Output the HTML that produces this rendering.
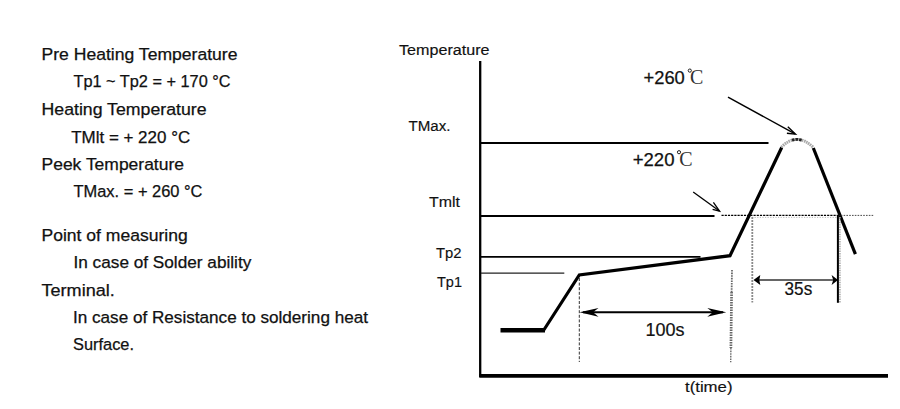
<!DOCTYPE html>
<html><head><meta charset="utf-8">
<style>
html,body{margin:0;padding:0;background:#fff;}
body{width:900px;height:409px;overflow:hidden;}
svg{display:block;}
text{font-family:"Liberation Sans",sans-serif;fill:#111;}
.l{font-size:16.3px;stroke:#111;stroke-width:0.25px;}
.a{font-size:13.8px;stroke:#111;stroke-width:0.15px;}
.b{font-size:18px;}
.s{font-family:"Liberation Serif",serif;}
</style></head><body>
<svg width="900" height="409" viewBox="0 0 900 409">
<rect width="900" height="409" fill="#fff"/>
<!-- left text -->
<g class="l">
<text x="41.5" y="60.2" textLength="196" lengthAdjust="spacingAndGlyphs">Pre Heating Temperature</text>
<text x="73.5" y="87.3" textLength="157" lengthAdjust="spacingAndGlyphs">Tp1 ~ Tp2 = + 170 °C</text>
<text x="41.5" y="114.8" textLength="165" lengthAdjust="spacingAndGlyphs">Heating Temperature</text>
<text x="71.2" y="142.9" textLength="119" lengthAdjust="spacingAndGlyphs">TMlt = + 220 °C</text>
<text x="41.5" y="169.5" textLength="142.5" lengthAdjust="spacingAndGlyphs">Peek Temperature</text>
<text x="73.5" y="196.6" textLength="129" lengthAdjust="spacingAndGlyphs">TMax. = + 260 °C</text>
<text x="41.5" y="241.3" textLength="146.3" lengthAdjust="spacingAndGlyphs">Point of measuring</text>
<text x="73.5" y="267.8" textLength="177.8" lengthAdjust="spacingAndGlyphs">In case of Solder ability</text>
<text x="41.5" y="295.6" textLength="73.3" lengthAdjust="spacingAndGlyphs">Terminal.</text>
<text x="73" y="323.3" textLength="295" lengthAdjust="spacingAndGlyphs">In case of Resistance to soldering heat</text>
<text x="73" y="350.3" textLength="61" lengthAdjust="spacingAndGlyphs">Surface.</text>
</g>
<!-- axis labels -->
<g class="a">
<text x="399" y="55" textLength="90.5" lengthAdjust="spacingAndGlyphs">Temperature</text>
<text x="408.5" y="130.6" textLength="42" lengthAdjust="spacingAndGlyphs">TMax.</text>
<text x="429" y="207" textLength="31" lengthAdjust="spacingAndGlyphs">Tmlt</text>
<text x="436" y="258" textLength="25.5" lengthAdjust="spacingAndGlyphs">Tp2</text>
<text x="437" y="287" textLength="25" lengthAdjust="spacingAndGlyphs">Tp1</text>
<text x="685" y="392.1" textLength="47.5" lengthAdjust="spacingAndGlyphs">t(time)</text>
</g>
<!-- axes -->
<g stroke="#000" fill="none">
<line x1="480.2" y1="61" x2="480.2" y2="377" stroke-width="2.3"/>
<line x1="479.3" y1="375.9" x2="888" y2="375.9" stroke-width="3.6"/>
<line x1="481" y1="143" x2="768.5" y2="143" stroke-width="2"/>
<line x1="481" y1="216" x2="714.5" y2="216" stroke-width="1.8"/>
<line x1="481" y1="256.9" x2="700.5" y2="256.9" stroke-width="1.6"/>
<line x1="481" y1="273.2" x2="564.3" y2="273.2" stroke-width="1.3" stroke="#222"/>
<!-- profile -->
<line x1="500.5" y1="330.2" x2="545" y2="330.2" stroke-width="4.4"/>
<polyline points="543.5,330.5 579.3,275 730,255.7 781.7,147.5" stroke-width="3.2" stroke-linejoin="miter"/>
<line x1="813.3" y1="148" x2="855.4" y2="254.2" stroke-width="3.2"/>
<path d="M781.2,147.3 Q796.8,131.5 813.2,147.3" stroke="#a8a8a8" stroke-width="3" stroke-dasharray="1.6 0.7"/>
<path d="M792,140.2 Q797,138.6 802.4,140.3" stroke="#222" stroke-width="2.8" stroke-dasharray="2.6 1"/>
<!-- dotted horizontals -->
<line x1="721.5" y1="215.4" x2="838" y2="215.4" stroke-width="1.1" stroke-dasharray="2.2 1"/><line x1="838" y1="215.4" x2="873.5" y2="215.4" stroke-width="0.9" stroke="#333" stroke-dasharray="1.6 1.2"/>
<line x1="752" y1="217.4" x2="838" y2="217.4" stroke-width="1" stroke="#bbb" stroke-dasharray="1.2 1.4"/>
<!-- dashed verticals -->
<line x1="579.3" y1="278" x2="579.3" y2="362" stroke-width="1" stroke="#333" stroke-dasharray="3 1.6"/>
<line x1="732" y1="270" x2="731.6" y2="292" stroke-width="1.8" stroke="#686868" stroke-dasharray="1.6 1"/><line x1="731.6" y1="292" x2="730.9" y2="348" stroke-width="2.7" stroke="#686868" stroke-dasharray="1.5 1"/><line x1="730.9" y1="348" x2="730.7" y2="362.3" stroke-width="1.4" stroke="#686868" stroke-dasharray="1.6 1"/>
<line x1="752.3" y1="217" x2="752.3" y2="302.5" stroke-width="1.8" stroke="#8a8a8a" stroke-dasharray="2 1"/><line x1="839.9" y1="217" x2="839.9" y2="302.5" stroke-width="1.6" stroke="#aaa" stroke-dasharray="1.4 1"/>
<line x1="837.9" y1="215" x2="837.9" y2="302.8" stroke-width="2"/>
<!-- dimension arrows -->
<line x1="583" y1="312.3" x2="723" y2="312.3" stroke-width="1.9"/>
<line x1="757" y1="280" x2="834" y2="280" stroke-width="1.7" stroke="#333"/>
<!-- pointer arrows -->
<line x1="728" y1="97.2" x2="795" y2="133.9" stroke-width="1.4"/>
<polyline points="786.9,133.2 795.4,134.1 787.8,126.8" stroke-width="1.4"/>
<line x1="693.2" y1="192" x2="719.4" y2="211" stroke-width="1.3"/>
<polyline points="712.6,209.3 719.6,211.1 713.4,202.3" stroke-width="1.3"/>
</g>
<g fill="#000" stroke="none">
<path d="M579.6,312.3 L598.5,307.9 L593,312.3 L598.5,316.7 Z"/>
<path d="M726.2,312.3 L707.3,307.9 L712.8,312.3 L707.3,316.7 Z"/>
<path d="M753.5,280 L760.3,275 L759.3,280 L760.3,285 Z"/>
<path d="M838,280 L831.6,275 L833.2,280 L831.6,285 Z"/>
</g>
<!-- chart value labels -->
<g class="b">
<text x="645.5" y="336" textLength="39" lengthAdjust="spacingAndGlyphs" stroke="#111" stroke-width="0.2">100s</text>
<text x="784.6" y="295" textLength="27.6" lengthAdjust="spacingAndGlyphs" style="font-size:17.8px" stroke="#111" stroke-width="0.2">35s</text>
<text x="643.5" y="84" textLength="41.3" lengthAdjust="spacingAndGlyphs" stroke="#111" stroke-width="0.25">+260</text>
<text x="632.7" y="165.8" textLength="41.8" lengthAdjust="spacingAndGlyphs" stroke="#111" stroke-width="0.25">+220</text>
<text class="s" x="690" y="84.2" style="font-size:20px;fill:#333">C</text>
<text class="s" x="679.2" y="166.2" style="font-size:20px;fill:#333">C</text>
</g>
<g fill="none" stroke="#222" stroke-width="1">
<circle cx="689.8" cy="70.6" r="1.6"/>
<circle cx="679" cy="152.2" r="1.6"/>
</g>
</svg>
</body></html>
